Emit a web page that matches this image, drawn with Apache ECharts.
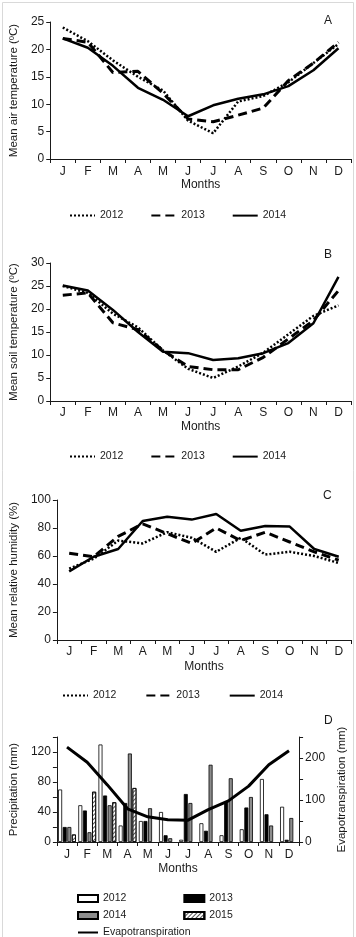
<!DOCTYPE html>
<html>
<head>
<meta charset="utf-8">
<script src="https://cdn.jsdelivr.net/npm/echarts@6/dist/echarts.min.js"></script>
<style>
html,body{margin:0;padding:0;background:#fff;}
#chart{width:356px;height:937px;}
</style>
</head>
<body>
<div id="chart"></div>
<script>
// ---- data ----
const months = ['Jan','Feb','Mar','Apr','May','Jun','Jul','Aug','Sep','Oct','Nov','Dec'];
const monthLabels = ['J','F','M','A','M','J','J','A','S','O','N','D'];
const years = ['2012','2013','2014'];
const airT2012 = [24, 21.5, 18, 15, 12.5, 7, 4.7, 10.5, 11.5, 14, 17.5, 21];
const airT2013 = [22, 21.3, 15.8, 16, 12, 7.3, 6.8, 8, 9.3, 14.3, 17.5, 21.3];
const airT2014 = [22, 20.3, 17, 13, 10.8, 7.8, 9.8, 11, 11.8, 13.3, 16.2, 20.2];
const soilT2012 = [25, 23.5, 19, 16, 11, 7, 5, 7.5, 10.5, 14.5, 18.5, 20.8];
const soilT2013 = [23, 23.5, 17, 15.5, 11, 7.5, 6.8, 6.8, 9.5, 13.5, 17.5, 24];
const soilT2014 = [25.1, 24, 19.8, 15, 10.7, 10.4, 8.9, 9.3, 10.4, 12.6, 16.9, 27];
const hum2012 = [51, 58, 71, 69, 77, 73, 63, 73, 61, 63, 60, 55];
const hum2013 = [62, 59.5, 74, 83, 76, 69, 80, 71, 77, 70, 63, 57];
const hum2014 = [49, 59.5, 65, 85, 88, 86, 90, 78, 81.5, 81, 65, 59.5];
const precip2012 = [70, 49, 130, 22, 28, 40, 3, 25, 9, 17, 84, 47];
const precip2013 = [20, 42, 62, 52, 28, 9, 64, 15, 54, 46, 37, 3];
const precip2014 = [20, 13, 49, 118, 45, 5, 52, 103, 85, 60, 22, 32];
const precip2015 = [10, 67, 53, 72, null, null, null, null, null, null, null, null];
const evapo = [226, 190, 136, 79, 60, 53, 52, 77, 98, 133, 184, 217];
const airTicks = [0, 25, 5];
const soilTicks = [0, 30, 5];
const humTicks = [0, 100, 20];
const precipTicks = [0, 140, 20];
const evapoTicks = [0, 250, 50];

// ---- styles ----
const FONT = 'Liberation Sans, Arial, sans-serif';
const INK = '#1a1a1a';
const styles = {
  '2012': {type: [2, 2], width: 2.5},
  '2013': {type: [9, 5], width: 3},
  '2014': {type: 'solid', width: 2.5}
};

const grids = [
  {left: 50, right: 5, top: 22, height: 137},
  {left: 50, right: 5, top: 263, height: 138},
  {left: 50, right: 5, top: 500, height: 140},
  {left: 50, right: 51, top: 737, height: 105}
];

function xAx(gi, margin, gap) {
  return {
    type: 'category', gridIndex: gi, data: months, boundaryGap: true,
    axisLine: {lineStyle: {color: INK, width: 1}},
    axisTick: {show: true, length: 4, lineStyle: {color: INK}},
    axisLabel: {fontFamily: FONT, fontSize: 12, color: INK, margin: margin,
      interval: 0, formatter: (v, i) => monthLabels[i]},
    name: 'Months', nameLocation: 'middle', nameGap: gap,
    nameTextStyle: {fontFamily: FONT, fontSize: 12, color: INK}
  };
}
function yAx(gi, t, name, gap, pos, labelEvery) {
  return {
    type: 'value', gridIndex: gi, min: t[0], max: t[1], interval: t[2], position: pos || 'left',
    splitLine: {show: false},
    axisLine: {show: true, lineStyle: {color: INK, width: 1}},
    axisTick: {show: true, length: 4, lineStyle: {color: INK}},
    axisLabel: {fontFamily: FONT, fontSize: 12, color: INK, margin: 6,
      formatter: v => (labelEvery ? (v % labelEvery === 0 ? String(v) : '') : String(v))},
    name: name, nameLocation: 'middle', nameGap: gap,
    nameTextStyle: {fontFamily: FONT, fontSize: 11.5, color: INK}
  };
}

function lineSeries(name, data, gi) {
  return {
    type: 'line', name: name, xAxisIndex: gi, yAxisIndex: gi, data: data,
    symbol: 'none', smooth: false,
    lineStyle: {color: '#000', width: styles[name].width, type: styles[name].type},
    itemStyle: {color: '#000'}
  };
}

const series = [
  lineSeries('2012', airT2012, 0), lineSeries('2013', airT2013, 0), lineSeries('2014', airT2014, 0),
  lineSeries('2012', soilT2012, 1), lineSeries('2013', soilT2013, 1), lineSeries('2014', soilT2014, 1),
  lineSeries('2012', hum2012, 2), lineSeries('2013', hum2013, 2), lineSeries('2014', hum2014, 2)
];
const barBase = {type: 'bar', xAxisIndex: 3, yAxisIndex: 3, barWidth: 4, barGap: '15%'};
series.push(Object.assign({}, barBase, {name: 'P2012', data: precip2012,
  itemStyle: {color: '#fff', borderColor: '#000', borderWidth: 0.8}}));
series.push(Object.assign({}, barBase, {name: 'P2013', data: precip2013,
  itemStyle: {color: '#000', borderColor: '#000', borderWidth: 0.8}}));
series.push(Object.assign({}, barBase, {name: 'P2014', data: precip2014,
  itemStyle: {color: '#8c8c8c', borderColor: '#000', borderWidth: 0.8}}));
series.push(Object.assign({}, barBase, {name: 'P2015', data: precip2015,
  itemStyle: {color: '#fff', borderColor: '#000', borderWidth: 0.8,
    decal: {symbol: 'rect', symbolSize: 1, dashArrayX: [1, 0], dashArrayY: [1, 2],
      rotation: -Math.PI / 4, color: '#555'}}}));
series.push({type: 'line', name: 'Evapotranspiration', xAxisIndex: 3, yAxisIndex: 4, data: evapo,
  symbol: 'none', lineStyle: {color: '#000', width: 3}, itemStyle: {color: '#000'}, z: 5});

function lineLegend(top, left, gap) {
  return {
    data: years, top: top, left: left, itemGap: gap, itemWidth: 25, itemHeight: 14,
    selectedMode: false, itemStyle: {opacity: 0},
    textStyle: {fontFamily: FONT, fontSize: 10.5, color: INK}
  };
}
function barLegend(data, top, isLine) {
  const l = {
    data: data, top: top, left: 72, itemGap: 57, itemWidth: 20, itemHeight: 7,
    selectedMode: false,
    formatter: n => n.replace(/^P/, ''),
    textStyle: {fontFamily: FONT, fontSize: 10.5, color: INK}
  };
  if (isLine) { l.itemStyle = {opacity: 0}; } else { l.icon = 'rect'; }
  return l;
}

function letter(t, x, y) {
  return {type: 'text', left: x, top: y,
    style: {text: t, font: '12px ' + FONT, fill: INK}};
}

const option = {
  animation: false,
  backgroundColor: '#fff',
  grid: grids,
  xAxis: [xAx(0, 7, 20), xAx(1, 6, 20), xAx(2, 6, 21), xAx(3, 7, 21)],
  yAxis: [
    yAx(0, airTicks, 'Mean air temperature (ºC)', 30),
    yAx(1, soilTicks, 'Mean soil temperature (ºC)', 30),
    yAx(2, humTicks, 'Mean relative humidity (%)', 30),
    yAx(3, precipTicks, 'Precipitation (mm)', 30, 'left', 40),
    yAx(3, evapoTicks, 'Evapotranspiration (mm)', 36, 'right', 100)
  ],
  legend: [
    lineLegend(205, 64, 27),
    lineLegend(446, 64, 27),
    lineLegend(685, 57, 29),
    barLegend(['P2012', 'P2013'], 888, false),
    barLegend(['P2014', 'P2015'], 905, false),
    barLegend(['Evapotranspiration'], 922, true)
  ],
  series: series,
  graphic: [
    {type: 'rect', shape: {x: 2.5, y: 2.5, width: 351, height: 945},
      style: {fill: 'none', stroke: '#d9d9d9', lineWidth: 1}, silent: true},
    letter('A', 324, 15),
    letter('B', 324, 249),
    letter('C', 323, 490),
    letter('D', 324, 715)
  ]
};

const chart = echarts.init(document.getElementById('chart'), null, {renderer: 'canvas'});
chart.setOption(option);
</script>
</body>
</html>
